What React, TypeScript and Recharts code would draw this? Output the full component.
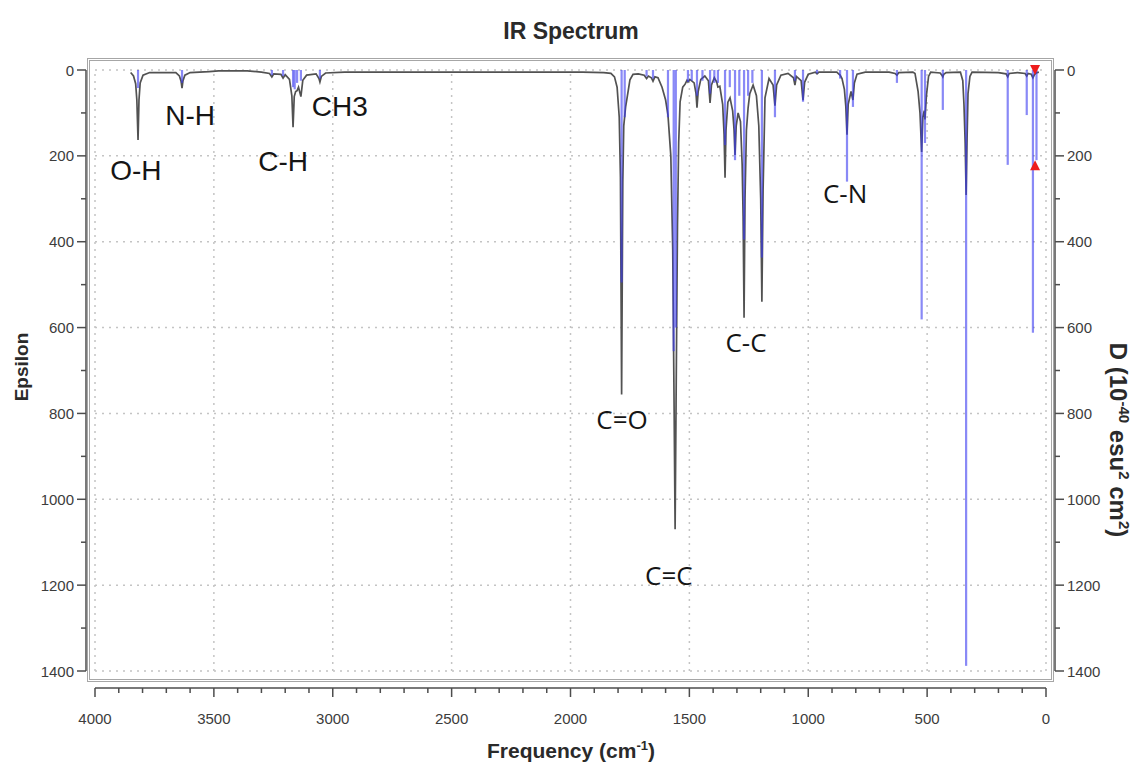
import React from 'react';
import {
  ComposedChart,
  Line,
  Bar,
  XAxis,
  YAxis,
  ReferenceLine,
  ReferenceDot,
} from 'recharts';

// ---------- data ----------
// simulated IR spectrum (Epsilon): [frequency cm-1, epsilon]
const spectrum: [number, number][] = [
  [3850, 6], [3838, 14], [3829, 32], [3824, 70], [3819, 163], [3815, 70], [3810, 30], [3798, 12], [3770, 6],
  [3660, 6], [3645, 14], [3638, 26], [3634, 42], [3630, 25], [3622, 12], [3600, 6],
  [3520, 4], [3480, 2], [3360, 2], [3300, 5],
  [3266, 8], [3256, 16], [3248, 9], [3218, 10], [3209, 19], [3200, 11],
  [3182, 22], [3172, 60], [3167, 133], [3162, 62], [3156, 50], [3150, 48], [3144, 40], [3134, 62], [3126, 24], [3110, 12],
  [3070, 9], [3058, 20], [3054, 28], [3048, 15], [3030, 7], [2950, 5], [2600, 5], [2200, 5], [1950, 5], [1860, 6],
  [1830, 8], [1815, 16], [1804, 40], [1795, 110], [1790, 250], [1785, 756], [1780, 260], [1776, 130], [1768, 85], [1762, 65],
  [1750, 23], [1737, 10], [1715, 9],
  [1690, 12], [1680, 20], [1672, 14], [1660, 18], [1653, 26], [1645, 16], [1632, 18], [1615, 40], [1600, 70], [1590, 105],
  [1578, 200], [1570, 420], [1564, 800], [1560, 1070], [1556, 780], [1550, 360], [1545, 170], [1539, 74], [1528, 40], [1518, 33],
  [1510, 24], [1506, 28], [1498, 22], [1480, 30], [1472, 55], [1468, 88], [1463, 50], [1452, 22], [1435, 14], [1420, 25],
  [1413, 77], [1407, 35], [1395, 18], [1385, 28], [1380, 40], [1372, 38], [1360, 80], [1354, 150], [1350, 251], [1346, 140],
  [1338, 75], [1329, 65], [1318, 95], [1312, 140], [1308, 198], [1303, 130], [1295, 100], [1285, 120], [1278, 220], [1274, 340],
  [1270, 577], [1266, 300], [1260, 140], [1253, 88], [1246, 55], [1232, 35], [1218, 60], [1208, 130], [1200, 300], [1195, 540],
  [1190, 280], [1182, 65], [1165, 20], [1148, 35], [1140, 83], [1133, 35], [1115, 12], [1085, 8], [1062, 18], [1056, 35],
  [1050, 15], [1030, 25], [1022, 70], [1015, 28], [1000, 10], [970, 5], [963, 9], [955, 5], [880, 5], [870, 10], [866, 12],
  [858, 20], [848, 45], [842, 85], [837, 151], [832, 80], [820, 50], [812, 70], [806, 30], [795, 10], [760, 5], [660, 5],
  [635, 8], [627, 12], [619, 6], [560, 5], [551, 8], [538, 50], [530, 100], [523, 191], [518, 110], [512, 95], [509, 115],
  [503, 60], [494, 15], [485, 5], [445, 7], [438, 12], [434, 16], [430, 10], [420, 6], [360, 5], [350, 25], [345, 81],
  [340, 170], [336, 291], [332, 160], [328, 55], [320, 15], [311, 5], [200, 6], [168, 9], [161, 16], [155, 8], [120, 6],
  [88, 8], [81, 14], [75, 8], [62, 10], [55, 18], [48, 10], [38, 6], [30, 5],
];

// dipole strength sticks (D, 10^-40 esu^2 cm^2)
const stickFreq = [
  3819, 3634, 3256, 3209, 3167, 3160, 3150, 3134, 3054,
  1785, 1772, 1680, 1653, 1590, 1566, 1557, 1506, 1490, 1468, 1445, 1413, 1395, 1380, 1350,
  1330, 1308, 1290, 1270, 1253, 1235, 1195, 1140, 1056, 1022, 963, 866, 837, 812, 627,
  523, 509, 434, 336, 161, 81, 55, 40,
];
const stickD = [
  42, 30, 12, 14, 40, 45, 30, 25, 20,
  495, 110, 15, 20, 110, 655, 600, 28, 25, 60, 25, 55, 30, 30, 175,
  40, 210, 60, 395, 60, 30, 437, 110, 25, 74, 8, 20, 260, 86, 30,
  581, 170, 93, 1388, 221, 105, 612, 210,
];

// band annotations
const bandNames = ['O-H', 'N-H', 'CH3', 'C-H', 'C=O', 'C=C', 'C-C', 'C-N'];
const bandFreq = [3828, 3600, 2970, 3209, 1783, 1586, 1262, 845];
const bandPos = [235, 105, 86, 212, 814, 1177, 633, 286];
const bandStyle = ['arial', 'arial', 'arial', 'arial', 'calibri', 'calibri', 'calibri', 'calibri'];

// red markers
const markerFreq = [46, 46];
const markerVal = [0, 222];
const markerDir = ['down', 'up'];

// axes
const freqMajor = [0, 500, 1000, 1500, 2000, 2500, 3000, 3500, 4000];
const freqTicks = Array.from({ length: 41 }, (_, i) => i * 100);
const epsMajor = [0, 200, 400, 600, 800, 1000, 1200, 1400];
const epsTicks = Array.from({ length: 15 }, (_, i) => i * 100);

type Row = { f: number; eps?: number; d?: number };
const rows: Row[] = [
  ...spectrum.map(([f, e]) => ({ f, eps: e })),
  ...stickFreq.map((f, i) => ({ f, d: stickD[i] })),
].sort((a, b) => b.f - a.f);

// ---------- styling ----------
const AXIS_GAP = 9;
const AXIS_COLOR = '#4d4d4d';
const TICK_FONT = "'Liberation Sans', Arial, sans-serif";
const TICK_COLOR = '#3c3c3c';
const STICK_W = 2.2;

const LeftTick = (props: any) => {
  const { x, y, payload } = props;
  const major = epsMajor.includes(payload.value);
  const ax = x - AXIS_GAP;
  return (
    <g>
      <line x1={ax} x2={ax - (major ? 9 : 5)} y1={y} y2={y} stroke={AXIS_COLOR} strokeWidth={1.5} />
      {major && (
        <text x={ax - 12} y={y} textAnchor="end" dominantBaseline="central" fontFamily={TICK_FONT} fontSize={15} fill={TICK_COLOR}>
          {payload.value}
        </text>
      )}
    </g>
  );
};

const RightTick = (props: any) => {
  const { x, y, payload } = props;
  const major = epsMajor.includes(payload.value);
  const ax = x + AXIS_GAP;
  return (
    <g>
      <line x1={ax} x2={ax + (major ? 9 : 5)} y1={y} y2={y} stroke={AXIS_COLOR} strokeWidth={1.5} />
      {major && (
        <text x={ax + 12} y={y} textAnchor="start" dominantBaseline="central" fontFamily={TICK_FONT} fontSize={15} fill={TICK_COLOR}>
          {payload.value}
        </text>
      )}
    </g>
  );
};

const BottomTick = (props: any) => {
  const { x, y, payload } = props;
  const major = freqMajor.includes(payload.value);
  const ay = y + 17;
  return (
    <g>
      <line x1={x} x2={x} y1={ay} y2={ay + (major ? 9 : 5)} stroke={AXIS_COLOR} strokeWidth={1.5} />
      {major && (
        <text x={x} y={ay + 30} textAnchor="middle" dominantBaseline="central" fontFamily={TICK_FONT} fontSize={15} fill={TICK_COLOR}>
          {payload.value}
        </text>
      )}
    </g>
  );
};

// stick drawn centred on the bar slot Recharts computes
const StickShape = (props: any) => {
  const { x, y, width, height } = props;
  if (height == null || !isFinite(height) || height === 0) return null;
  const cx = x + width / 2;
  const top = Math.min(y, y + height);
  return <rect x={cx - STICK_W / 2} y={top} width={STICK_W} height={Math.abs(height)} fill="#3a3af0" fillOpacity={0.6} />;
};

const bandLabelShape = (i: number) => (p: any) => (
  <text
    x={p.cx}
    y={p.cy}
    textAnchor="middle"
    dominantBaseline="central"
    fontFamily={bandStyle[i] === 'arial' ? "'Liberation Sans', Arial, sans-serif" : "'Open Sans', 'Noto Sans', sans-serif"}
    fontSize={bandStyle[i] === 'arial' ? 28 : 26}
    fill="#151515"
  >
    {bandNames[i]}
  </text>
);

const markerShape = (i: number) => (p: any) => {
  const { cx, cy } = p;
  const s = 5;
  const d =
    markerDir[i] === 'down'
      ? `M${cx - s},${cy - s} L${cx + s},${cy - s} L${cx},${cy + s} Z`
      : `M${cx - s},${cy + s} L${cx + s},${cy + s} L${cx},${cy - s} Z`;
  return <path d={d} fill="#ee1c1c" />;
};

const titleFont = "'Liberation Sans', Arial, sans-serif";

export default function App() {
  return (
    <div style={{ position: 'absolute', left: 0, top: 0, width: 1138, height: 769, background: '#fff', overflow: 'hidden' }}>
      {/* plot frame */}
      <div
        style={{
          position: 'absolute',
          left: 87,
          top: 58,
          width: 967,
          height: 624,
          boxSizing: 'border-box',
          border: '3px double #a6a6a6',
        }}
      />
      <div style={{ position: 'absolute', left: 0, top: 0 }}>
        <ComposedChart
          width={1138}
          height={769}
          data={rows}
          margin={{ top: 70, right: 32, bottom: 58, left: 35 }}
        >
          <XAxis
            dataKey="f"
            type="number"
            domain={[0, 4000]}
            reversed
            ticks={freqTicks}
            interval={0}
            tickSize={0}
            tickMargin={0}
            tick={<BottomTick />}
            height={40}
            axisLine={{ stroke: AXIS_COLOR, strokeWidth: 1.5, transform: 'translate(0,17)' }}
            allowDataOverflow
          />
          <YAxis
            yAxisId="left"
            orientation="left"
            type="number"
            domain={[0, 1400]}
            reversed
            ticks={epsTicks}
            interval={0}
            tickSize={0}
            tickMargin={0}
            width={60}
            tick={<LeftTick />}
            axisLine={{ stroke: AXIS_COLOR, strokeWidth: 1.5, transform: `translate(-${AXIS_GAP},0)` }}
            allowDataOverflow
          />
          <YAxis
            yAxisId="right"
            orientation="right"
            type="number"
            domain={[0, 1400]}
            reversed
            ticks={epsTicks}
            interval={0}
            tickSize={0}
            tickMargin={0}
            width={60}
            tick={<RightTick />}
            axisLine={{ stroke: AXIS_COLOR, strokeWidth: 1.5, transform: `translate(${AXIS_GAP},0)` }}
            allowDataOverflow
          />
          {freqMajor.map((f) => (
            <ReferenceLine key={'gx' + f} x={f} yAxisId="left" stroke="#c4c4c4" strokeWidth={1.5} strokeDasharray="2 5" />
          ))}
          {epsMajor.map((v) => (
            <ReferenceLine key={'gy' + v} y={v} yAxisId="left" stroke="#c4c4c4" strokeWidth={1.5} strokeDasharray="2 5" />
          ))}
          <Line
            yAxisId="left"
            dataKey="eps"
            type="linear"
            stroke="#525252"
            strokeWidth={1.7}
            dot={false}
            connectNulls
            isAnimationActive={false}
          />
          <Bar
            yAxisId="right"
            dataKey="d"
            fill="#3a3af0"
            shape={<StickShape />}
            isAnimationActive={false}
            {...({ zIndex: 500 } as any)}
          />
          {markerFreq.map((f, i) => (
            <ReferenceDot key={'m' + i} x={f} y={markerVal[i]} yAxisId="right" r={5} shape={markerShape(i)} ifOverflow="visible" />
          ))}
          {bandNames.map((n, i) => (
            <ReferenceDot key={n} x={bandFreq[i]} y={bandPos[i]} yAxisId="left" r={1} shape={bandLabelShape(i)} ifOverflow="visible" />
          ))}
        </ComposedChart>
      </div>
      {/* titles */}
      <div
        style={{
          position: 'absolute', left: 571, top: 31, transform: 'translate(-50%,-50%)',
          fontFamily: titleFont, fontWeight: 'bold', fontSize: 23, color: '#2a2a2a', whiteSpace: 'nowrap',
        }}
      >
        IR Spectrum
      </div>
      <div
        style={{
          position: 'absolute', left: 571, top: 750, transform: 'translate(-50%,-50%)',
          fontFamily: titleFont, fontWeight: 'bold', fontSize: 21, color: '#2a2a2a', whiteSpace: 'nowrap',
        }}
      >
        Frequency (cm<sup style={{ fontSize: 13 }}>-1</sup>)
      </div>
      <div
        style={{
          position: 'absolute', left: 22, top: 367, transform: 'translate(-50%,-50%) rotate(-90deg)',
          fontFamily: titleFont, fontWeight: 'bold', fontSize: 19, color: '#2a2a2a', whiteSpace: 'nowrap',
        }}
      >
        Epsilon
      </div>
      <div
        style={{
          position: 'absolute', left: 1118, top: 440, transform: 'translate(-50%,-50%) rotate(90deg)',
          fontFamily: titleFont, fontWeight: 'bold', fontSize: 24, color: '#2a2a2a', whiteSpace: 'nowrap',
        }}
      >
        D (10<sup style={{ fontSize: 15 }}>-40</sup> esu<sup style={{ fontSize: 15 }}>2</sup> cm<sup style={{ fontSize: 15 }}>2</sup>)
      </div>
    </div>
  );
}
